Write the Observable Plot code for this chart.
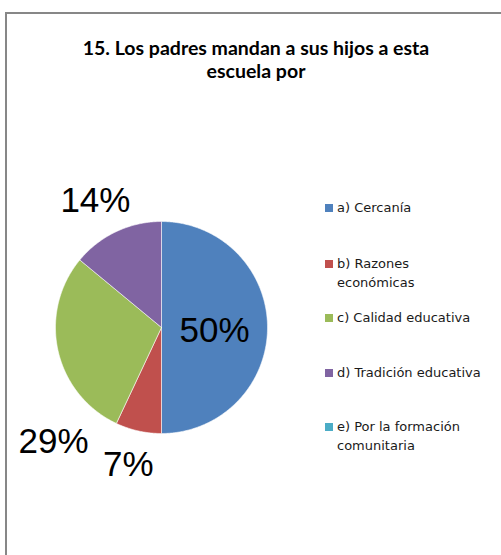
<!DOCTYPE html>
<html><head><meta charset="utf-8">
<script src="https://cdn.jsdelivr.net/npm/d3@7"></script>
<script src="https://cdn.jsdelivr.net/npm/@observablehq/plot@0.6"></script>
<style>
body{margin:0;background:#fff;}
#wrap{position:relative;width:501px;height:555px;overflow:hidden;background:#fff;}
#frame{position:absolute;left:5px;top:12px;width:530px;height:580px;border:2px solid #878787;box-sizing:border-box;}
#title{position:absolute;left:0;width:512px;top:36px;text-align:center;font-family:Lato;font-weight:bold;font-size:19.5px;line-height:23px;color:#000;}
#chart{position:absolute;left:0;top:0;}
.sw{position:absolute;width:8px;height:8px;}
.lt{position:absolute;left:337px;font-family:"DejaVu Sans";font-size:13px;line-height:19px;color:#1a1a1a;white-space:nowrap;}
</style></head>
<body>
<div id="wrap">
  <div id="frame"></div>
  <div id="title"></div>
  <div id="chart"></div>
  <div id="legend"></div>
</div>
<script>
const titleLines = ["15. Los padres mandan a sus hijos a esta", "escuela por"];
const categories = ["a) Cercanía", "b) Razones económicas", "c) Calidad educativa", "d) Tradición educativa", "e) Por la formación comunitaria"];
const legendLines = [["a) Cercanía"], ["b) Razones", "económicas"], ["c) Calidad educativa"], ["d) Tradición educativa"], ["e) Por la formación", "comunitaria"]];
const values = [50, 7, 29, 14, 0];
const colors = ["#4F81BD", "#C0504D", "#9BBB59", "#8064A2", "#4BACC6"];

document.getElementById("title").innerHTML = titleLines.join("<br>");

// pie geometry from data
const total = d3.sum(values);
const arcs = d3.pie().sort(null).value(d => d)(values);
const slices = [];
arcs.forEach((a, i) => {
  if (values[i] <= 0) return;
  slices.push({cat: categories[i], x: 0, y: 0});
  const steps = Math.max(2, Math.ceil((a.endAngle - a.startAngle) / (Math.PI / 360)));
  for (let k = 0; k <= steps; k++) {
    const t = a.startAngle + (a.endAngle - a.startAngle) * k / steps;
    slices.push({cat: categories[i], x: Math.sin(t), y: Math.cos(t)});
  }
  slices.push({cat: categories[i], x: 0, y: 0});
});

// label placement: largest slice inside, others outside (with best-fit nudges)
const nudges = {1: [-0.03, -0.03], 2: [0.25, -0.79], 3: [-0.07, 0.02]};
const labels = arcs.map((a, i) => {
  if (values[i] <= 0) return null;
  const mid = (a.startAngle + a.endAngle) / 2;
  const inside = values[i] === d3.max(values);
  const r = inside ? 0.5 : 1.3;
  const [nx, ny] = inside ? [0, -0.03] : (nudges[i] || [0, 0]);
  return {x: Math.sin(mid) * r + nx, y: Math.cos(mid) * r + ny, text: Math.round(values[i] / total * 100) + "%"};
}).filter(Boolean);

const chart = Plot.plot({
  width: 501,
  height: 555,
  margin: 0,
  x: {domain: [-1, 1], range: [55, 267], axis: null},
  y: {domain: [-1, 1], range: [433, 221], axis: null},
  color: {domain: categories, range: colors},
  style: {background: "transparent", overflow: "visible"},
  marks: [
    Plot.line(slices, {x: "x", y: "y", z: "cat", fill: "cat", stroke: "#ffffff", strokeWidth: 0.7, strokeOpacity: 0.8, curve: "linear"}),
    Plot.text(labels, {x: "x", y: "y", text: "text", fontSize: 35, fontFamily: "Liberation Sans", fill: "#000", textAnchor: "middle"})
  ]
});
document.getElementById("chart").appendChild(chart);

// legend
const legendY = [208, 264, 318, 373, 427];
const leg = document.getElementById("legend");
categories.forEach((c, i) => {
  const sw = document.createElement("div");
  sw.className = "sw";
  sw.style.left = "325px";
  sw.style.top = (legendY[i] - 4) + "px";
  sw.style.background = colors[i];
  leg.appendChild(sw);
  const t = document.createElement("div");
  t.className = "lt";
  t.style.top = (legendY[i] - 10) + "px";
  t.innerHTML = legendLines[i].join("<br>");
  leg.appendChild(t);
});
</script>
</body></html>
